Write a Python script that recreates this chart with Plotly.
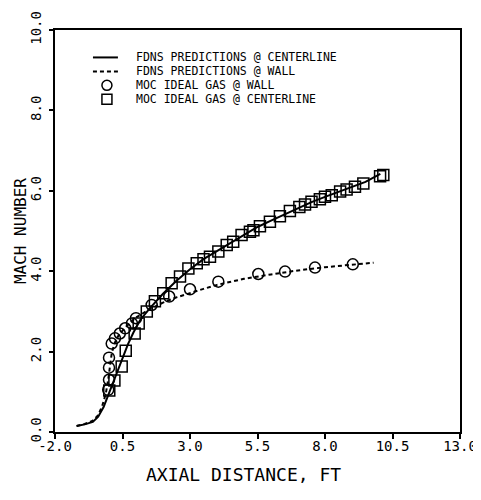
import plotly.graph_objects as go

# FDNS predictions @ centerline (solid)
fdns_cl_x = [-1.2, -0.9, -0.6, -0.4, -0.2, -0.05, 0.1, 0.3, 0.5, 0.7, 0.9, 1.15, 1.5, 2.0, 2.5,
             3.0, 3.5, 4.0, 4.5, 5.0, 5.5, 6.0, 6.5, 7.0, 7.5, 8.0, 8.5, 9.0, 9.5, 10.05]
fdns_cl_y = [0.15, 0.19, 0.25, 0.38, 0.62, 0.88, 1.14, 1.5, 1.85, 2.18, 2.47, 2.78, 3.07, 3.44, 3.76,
             4.05, 4.3, 4.5, 4.72, 4.92, 5.1, 5.26, 5.42, 5.58, 5.72, 5.85, 5.97, 6.09, 6.22, 6.42]

# FDNS predictions @ wall (dashed)
fdns_wall_x = [-1.2, -0.9, -0.6, -0.4, -0.25, -0.12, -0.03, 0.03, 0.1, 0.2, 0.35, 0.6, 1.0, 1.5,
               2.0, 2.5, 3.0, 3.5, 4.0, 5.0, 6.0, 7.0, 8.0, 9.0, 9.8]
fdns_wall_y = [0.15, 0.2, 0.28, 0.42, 0.65, 0.95, 1.3, 1.65, 1.95, 2.2, 2.4, 2.6, 2.85, 3.05,
               3.22, 3.35, 3.46, 3.56, 3.66, 3.81, 3.92, 4.02, 4.1, 4.17, 4.21]

# MOC ideal gas @ wall (circles)
moc_wall_x = [-0.03, 0.0, 0.0, 0.0, 0.1, 0.22, 0.4, 0.6, 0.85, 1.0, 1.58, 2.23, 3.0, 4.05, 5.53,
              6.52, 7.63, 9.03]
moc_wall_y = [1.05, 1.3, 1.6, 1.85, 2.2, 2.33, 2.45, 2.58, 2.7, 2.83, 3.16, 3.37, 3.55, 3.74, 3.93,
              3.99, 4.09, 4.17]

# MOC ideal gas @ centerline (squares)
moc_cl_x = [0.01, 0.2, 0.47, 0.62, 0.95, 1.1, 1.4, 1.7, 2.01, 2.32, 2.63, 2.94, 3.25, 3.5, 3.74,
            4.05, 4.36, 4.6, 4.91, 5.22, 5.35, 5.59, 5.96, 6.33, 6.7, 7.05, 7.26, 7.5, 7.81, 8.0,
            8.25, 8.56, 8.8, 9.11, 9.42, 10.04, 10.16]
moc_cl_y = [1.03, 1.28, 1.63, 2.02, 2.45, 2.7, 3.0, 3.25, 3.45, 3.7, 3.87, 4.07, 4.2, 4.3, 4.36,
            4.49, 4.65, 4.73, 4.9, 4.98, 5.02, 5.12, 5.23, 5.37, 5.5, 5.6, 5.66, 5.73, 5.79, 5.85,
            5.89, 5.98, 6.03, 6.1, 6.18, 6.36, 6.39]

x_ticks = [-2.0, 0.5, 3.0, 5.5, 8.0, 10.5, 13.0]
x_tick_text = ["-2.0", "0.5", "3.0", "5.5", "8.0", "10.5", "13.0"]
y_ticks = [0, 2, 4, 6, 8, 10]
y_tick_text = ["0.0", "2.0", "4.0", "6.0", "8.0", "10.0"]

legend_labels = ["FDNS PREDICTIONS @ CENTERLINE", "FDNS PREDICTIONS @ WALL",
                 "MOC IDEAL GAS @ WALL", "MOC IDEAL GAS @ CENTERLINE"]
x_title = "AXIAL DISTANCE, FT"
y_title = "MACH NUMBER"

FONT = "DejaVu Sans Mono"
OFF = 8  # page body margin
W, H = 481 - OFF, 500 - 2 * OFF
ML, MT = 55 - OFF, 29.5 - OFF
MR = 481 - 460.5
MB = (500 - OFF) - 432.5
PW, PH = W - ML - MR, H - MT - MB


def px_x(p):
    return (p - OFF - ML) / PW


def px_y(p):
    return (H - MB - (p - OFF)) / PH


fig = go.Figure()
fig.add_trace(go.Scatter(x=fdns_cl_x, y=fdns_cl_y, mode="lines",
                         line=dict(color="black", width=2), name=legend_labels[0]))
fig.add_trace(go.Scatter(x=fdns_wall_x, y=fdns_wall_y, mode="lines",
                         line=dict(color="black", width=2, dash="4px,3px"), name=legend_labels[1]))
fig.add_trace(go.Scatter(x=moc_wall_x, y=moc_wall_y, mode="markers",
                         marker=dict(symbol="circle-open", size=11, color="black",
                                     line=dict(width=1.5, color="black")),
                         name=legend_labels[2]))
fig.add_trace(go.Scatter(x=moc_cl_x, y=moc_cl_y, mode="markers",
                         marker=dict(symbol="square-open", size=11, color="black",
                                     line=dict(width=1.5, color="black")),
                         name=legend_labels[3]))

# manual legend
rows_py = [57, 71, 85, 99]
text_px = 134
sym_x0, sym_x1, sym_xc = 93, 118, 107
annotations = []
shapes = []
for lab, py in zip(legend_labels, rows_py):
    annotations.append(dict(x=px_x(text_px), y=px_y(py), xref="paper", yref="paper",
                            xanchor="left", yanchor="middle", showarrow=False, text=lab,
                            font=dict(family=FONT, size=11.5, color="black")))
shapes.append(dict(type="line", xref="paper", yref="paper", x0=px_x(sym_x0), x1=px_x(sym_x1),
                   y0=px_y(rows_py[0]), y1=px_y(rows_py[0]), line=dict(color="black", width=2)))
shapes.append(dict(type="line", xref="paper", yref="paper", x0=px_x(sym_x0), x1=px_x(sym_x1),
                   y0=px_y(rows_py[1]), y1=px_y(rows_py[1]),
                   line=dict(color="black", width=2, dash="4px,3px")))
shapes.append(dict(type="circle", xref="paper", yref="paper", xsizemode="pixel",
                   ysizemode="pixel", xanchor=px_x(sym_xc), yanchor=px_y(rows_py[2]),
                   x0=-5, x1=5, y0=-5, y1=5, line=dict(color="black", width=1.5)))
shapes.append(dict(type="rect", xref="paper", yref="paper", xsizemode="pixel",
                   ysizemode="pixel", xanchor=px_x(sym_xc), yanchor=px_y(rows_py[3]),
                   x0=-5, x1=5, y0=-5, y1=5, line=dict(color="black", width=1.5)))

# axis titles
annotations.append(dict(x=px_x(244), y=px_y(475), xref="paper", yref="paper",
                        xanchor="center", yanchor="middle", showarrow=False, text=x_title,
                        font=dict(family=FONT, size=18, color="black")))
annotations.append(dict(x=px_x(20), y=px_y(231), xref="paper", yref="paper",
                        xanchor="center", yanchor="middle", showarrow=False, text=y_title,
                        textangle=-90, font=dict(family=FONT, size=16, color="black")))

fig.update_layout(
    width=W, height=H,
    margin=dict(l=ML, r=MR, t=MT, b=MB, autoexpand=False),
    paper_bgcolor="white", plot_bgcolor="white",
    font=dict(family=FONT, color="black"),
    showlegend=False,
    annotations=annotations, shapes=shapes,
)
fig.update_xaxes(range=[-2, 13], tickvals=x_ticks, ticktext=x_tick_text, automargin=False,
                 ticklabelstandoff=-5,
                 showgrid=False, zeroline=False, showline=True, linecolor="black",
                 linewidth=2, mirror=True, ticks="outside", ticklen=5, tickwidth=1.5,
                 tickcolor="black", tickfont=dict(size=14, family=FONT))
fig.update_yaxes(range=[0, 10], tickvals=y_ticks, ticktext=y_tick_text, tickangle=-90,
                 automargin=False, ticklabelstandoff=2,
                 showgrid=False, zeroline=False, showline=True, linecolor="black",
                 linewidth=2, mirror=True, ticks="outside", ticklen=4, tickwidth=1.5,
                 tickcolor="black", tickfont=dict(size=14, family=FONT))

fig.write_html("out.html")
